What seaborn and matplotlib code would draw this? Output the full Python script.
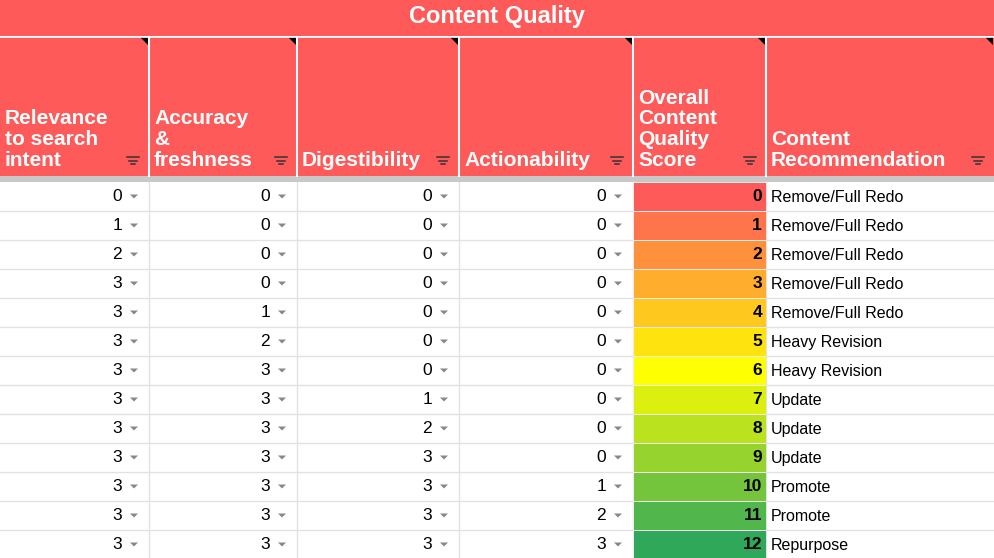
import matplotlib
matplotlib.use("Agg")
import matplotlib.pyplot as plt
from matplotlib.colors import LinearSegmentedColormap
from matplotlib.patches import Rectangle, Polygon
import seaborn as sns
import numpy as np

plt.rcParams["font.family"] = "Liberation Sans"

title = "Content Quality"
headers = ["Relevance\nto search\nintent", "Accuracy\n&\nfreshness", "Digestibility",
           "Actionability", "Overall\nContent\nQuality\nScore", "Content\nRecommendation"]
relevance = [0, 1, 2, 3, 3, 3, 3, 3, 3, 3, 3, 3, 3]
accuracy = [0, 0, 0, 0, 1, 2, 3, 3, 3, 3, 3, 3, 3]
digestibility = [0, 0, 0, 0, 0, 0, 0, 1, 2, 3, 3, 3, 3]
actionability = [0, 0, 0, 0, 0, 0, 0, 0, 0, 0, 1, 2, 3]
score = [0, 1, 2, 3, 4, 5, 6, 7, 8, 9, 10, 11, 12]
recommendation = ["Remove/Full Redo"] * 5 + ["Heavy Revision"] * 2 + ["Update"] * 3 + \
                 ["Promote"] * 2 + ["Repurpose"]

W, H = 994, 558
RED = "#ff5a5a"
fig = plt.figure(figsize=(W / 100, H / 100), dpi=100)
ax = fig.add_axes([0, 0, 1, 1])
ax.set_xlim(0, W); ax.set_ylim(H, 0); ax.axis("off")

cols = [0, 149, 297, 459, 633, 766, 994]
row_top = 182
row_h = 29
rows_y = [row_top + i * row_h for i in range(14)]

ax.add_patch(Rectangle((0, 0), W, 36, color=RED, lw=0))
ax.text(W / 2, 17, title, color="white", fontsize=17, fontweight="bold", ha="center", va="center")
ax.add_patch(Rectangle((0, 37), W, 139, color=RED, lw=0))
ax.add_patch(Rectangle((0, 176), W, 6, color="#c8c8c8", lw=0))
for i, h in enumerate(headers):
    x0, x1 = cols[i], cols[i + 1]
    if i > 0:
        ax.plot([x0, x0], [37, 176], color="white", lw=1.5)
    ax.text(x0 + 5, 170, h, color="white", fontsize=15, fontweight="bold",
            ha="left", va="bottom", linespacing=1.12)
    fx = x1 - 16
    for k, wd in enumerate([6, 4, 2]):
        ax.plot([fx - wd, fx + wd], [157 + k * 3.5, 157 + k * 3.5], color="#333333", lw=1.1)
    ax.add_patch(Polygon([[x1 - 9, 37], [x1 - 1, 37], [x1 - 1, 45]], color="black", lw=0))
ax.plot([0, W], [36.5, 36.5], color="white", lw=1.2)

for y in rows_y[1:]:
    ax.plot([0, W], [y, y], color="#e2e2e2", lw=1)
for x in cols[1:-1]:
    ax.plot([x, x], [182, H], color="#e2e2e2", lw=1)

for ci, vals in enumerate([relevance, accuracy, digestibility, actionability]):
    x1 = cols[ci + 1]
    for r, v in enumerate(vals):
        yc = rows_y[r] + row_h / 2
        ax.text(x1 - 27, yc, str(v), fontsize=12.5, ha="right", va="center", color="black")
        ax.add_patch(Polygon([[x1 - 19, yc - 2], [x1 - 11, yc - 2], [x1 - 15, yc + 2]],
                             color="#888888", lw=0))

for r, t in enumerate(recommendation):
    yc = rows_y[r] + row_h / 2 + 1
    ax.text(771, yc, t, fontsize=11.5, ha="left", va="center", color="black")

cmap = LinearSegmentedColormap.from_list("q", ["#ff5a5a", "#ffff00", "#2fa85a"])
hax = fig.add_axes([cols[4] / W, 1 - rows_y[-1] / H, (cols[5] - cols[4]) / W,
                    (rows_y[-1] - rows_y[0]) / H])
sns.heatmap(np.array(score).reshape(-1, 1), ax=hax, cmap=cmap, vmin=0, vmax=12,
            cbar=False, annot=False, xticklabels=False, yticklabels=False,
            linewidths=0.5, linecolor="#eeeeee")
hax.axis("off")
for r, v in enumerate(score):
    hax.text(0.97, r + 0.5, str(v), fontsize=12.5, fontweight="bold", ha="right",
             va="center", color="black")

fig.savefig("out.png", dpi=100)
